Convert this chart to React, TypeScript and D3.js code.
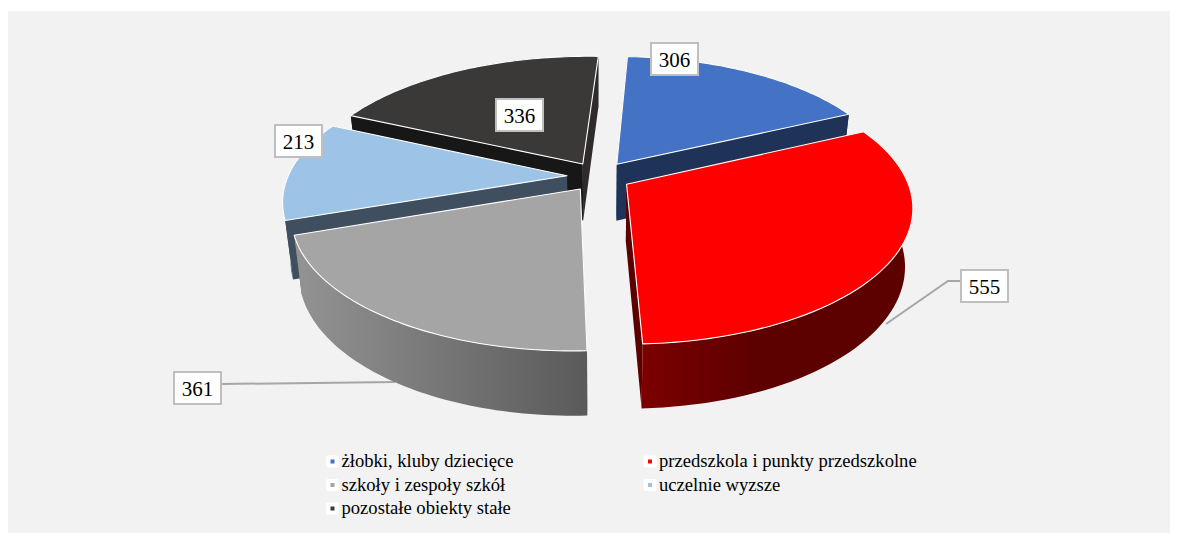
import React from "react";
import * as d3 from "d3";

// Wartości i podpisy segmentów
const categories = [
  "żłobki, kluby dziecięce",
  "przedszkola i punkty przedszkolne",
  "szkoły i zespoły szkół",
  "uczelnie wyzsze",
  "pozostałe obiekty stałe",
];
const values = [306, 555, 361, 213, 336];

// Kolory: wierzch, ściany promieniowe, ściana zewnętrzna (od lewej do prawej)
const topColors = ["#4472c4", "#ff0000", "#a5a5a5", "#9dc3e6", "#3b3838"];
const wallColors = ["#1f3258", "#5c0000", "#6a6a6a", "#3f4f60", "#171717"];
const sideWallColors = ["#1f3258", "#5c0000", "#6a6a6a", "#3f4f60", "#2e2b2a"];
const rimGradients = [
  ["#2a4373", "#1f3258"],
  ["#7c0000", "#5c0000"],
  ["#929292", "#5a5a5a"],
  ["#4a5f72", "#3f4f60"],
  ["#232120", "#171717"],
];

// Kolejność rysowania: od tyłu do przodu
const paintOrder = [4, 0, 3, 1, 2];

// Położenie etykiet wartości (lewy górny róg ramki)
const labelBoxes = [
  [651, 43],
  [961, 270],
  [174, 372],
  [275, 125],
  [496, 99],
];

// Linie odniesienia do segmentów
const leaderLines: Record<number, [number, number][]> = {
  1: [[961, 281], [948, 281], [886, 324]],
  2: [[222, 384], [395, 382]],
};

const legendPos = [
  [332.5, 461.5],
  [650, 461.5],
  [332.5, 485],
  [650, 485],
  [332.5, 508.5],
];

const WIDTH = 1178;
const HEIGHT = 533;

// Parametry rzutu perspektywicznego
const cx = 599;
const cy = 176.5;
const rx = 279;
const ry = 129.8;
const shear = -3;
const persp = 0.169;
const drop = 57;
const dropExp = 0.63;
const bottomShrink = 0.025;
const explode = 0.115;
const startDeg = 2.6;

function project(u: number, v: number, z: number): [number, number] {
  const w = 1 - persp * v;
  return [
    cx + ((rx * u + shear * v) / w) * (1 - z * bottomShrink),
    cy + (ry * v) / w + (z * drop) / Math.pow(w, dropExp),
  ];
}

const pieGen = d3
  .pie<number>()
  .sort(null)
  .startAngle((startDeg * Math.PI) / 180)
  .endAngle((startDeg * Math.PI) / 180 + 2 * Math.PI);

const arcs = pieGen(values);
const line = d3.line();

function sliceGeometry(a: d3.PieArcDatum<number>) {
  const mid = (a.startAngle + a.endAngle) / 2;
  const cu = explode * Math.sin(mid);
  const cv = -explode * Math.cos(mid);
  const angles = d3.range(0, 61).map((i) => a.startAngle + ((a.endAngle - a.startAngle) * i) / 60);
  const rim = (z: number) =>
    angles.map((t) => project(cu + Math.sin(t), cv - Math.cos(t), z));
  return {
    apexTop: project(cu, cv, 0),
    apexBot: project(cu, cv, 1),
    rimTop: rim(0),
    rimBot: rim(1),
    facesFront: Math.cos(mid) < 0,
  };
}

export default function App() {
  const geoms = arcs.map(sliceGeometry);
  return (
    <svg
      width={WIDTH}
      height={HEIGHT}
      style={{ position: "absolute", left: 0, top: 0 }}
      fontFamily="'Liberation Serif', serif"
    >
      <defs>
        {geoms.map((g, i) => {
          const xs = g.rimBot.map((p) => p[0]);
          return (
            <linearGradient
              key={i}
              id={`rim-${i}`}
              gradientUnits="userSpaceOnUse"
              x1={d3.min(xs)}
              x2={d3.max(xs)}
              y1={0}
              y2={0}
            >
              <stop offset="0" stopColor={rimGradients[i][0]} />
              <stop offset={i === 1 ? "0.45" : "1"} stopColor={rimGradients[i][1]} />
              <stop offset="1" stopColor={rimGradients[i][1]} />
            </linearGradient>
          );
        })}
      </defs>
      <rect x={8} y={11} width={1162} height={522} fill="#f2f2f2" />

      {Object.entries(leaderLines).map(([k, pts]) => (
        <path key={k} d={line(pts) ?? ""} fill="none" stroke="#a6a6a6" strokeWidth={2} />
      ))}

      {paintOrder.map((i) => {
        const g = geoms[i];
        const n = g.rimTop.length - 1;
        const outer = [...g.rimTop, ...[...g.rimBot].reverse()];
        const wallStart = [g.apexTop, g.rimTop[0], g.rimBot[0], g.apexBot];
        const wallEnd = [g.apexTop, g.rimTop[n], g.rimBot[n], g.apexBot];
        const top = [g.apexTop, ...g.rimTop];
        const rimPath = <path d={(line(outer) ?? "") + "Z"} fill={`url(#rim-${i})`} />;
        return (
          <g key={i}>
            {!g.facesFront && rimPath}
            <path d={(line(wallEnd) ?? "") + "Z"} fill={sideWallColors[i]} />
            <path d={(line(wallStart) ?? "") + "Z"} fill={wallColors[i]} />
            {g.facesFront && rimPath}
            <path
              d={(line(top) ?? "") + "Z"}
              fill={topColors[i]}
              stroke="#ffffff"
              strokeWidth={1.1}
              strokeLinejoin="round"
            />
          </g>
        );
      })}

      {values.map((v, i) => (
        <g key={i}>
          <rect
            x={labelBoxes[i][0]}
            y={labelBoxes[i][1]}
            width={47}
            height={32}
            fill="#ffffff"
            stroke="#bfbfbf"
            strokeWidth={2}
          />
          <text
            x={labelBoxes[i][0] + 23.5}
            y={labelBoxes[i][1] + 23.5}
            textAnchor="middle"
            fontSize={21}
            fill="#000"
          >
            {v}
          </text>
        </g>
      ))}

      {categories.map((c, i) => (
        <g key={i}>
          <rect x={legendPos[i][0] - 6.5} y={legendPos[i][1] - 6} width={13} height={12} rx={2} fill="#ffffff" />
          <rect x={legendPos[i][0] - 2} y={legendPos[i][1] - 2} width={4} height={4} fill={topColors[i]} />
          <text x={legendPos[i][0] + 9} y={legendPos[i][1] + 5.5} fontSize={18.6} fill="#000">
            {c}
          </text>
        </g>
      ))}
    </svg>
  );
}
